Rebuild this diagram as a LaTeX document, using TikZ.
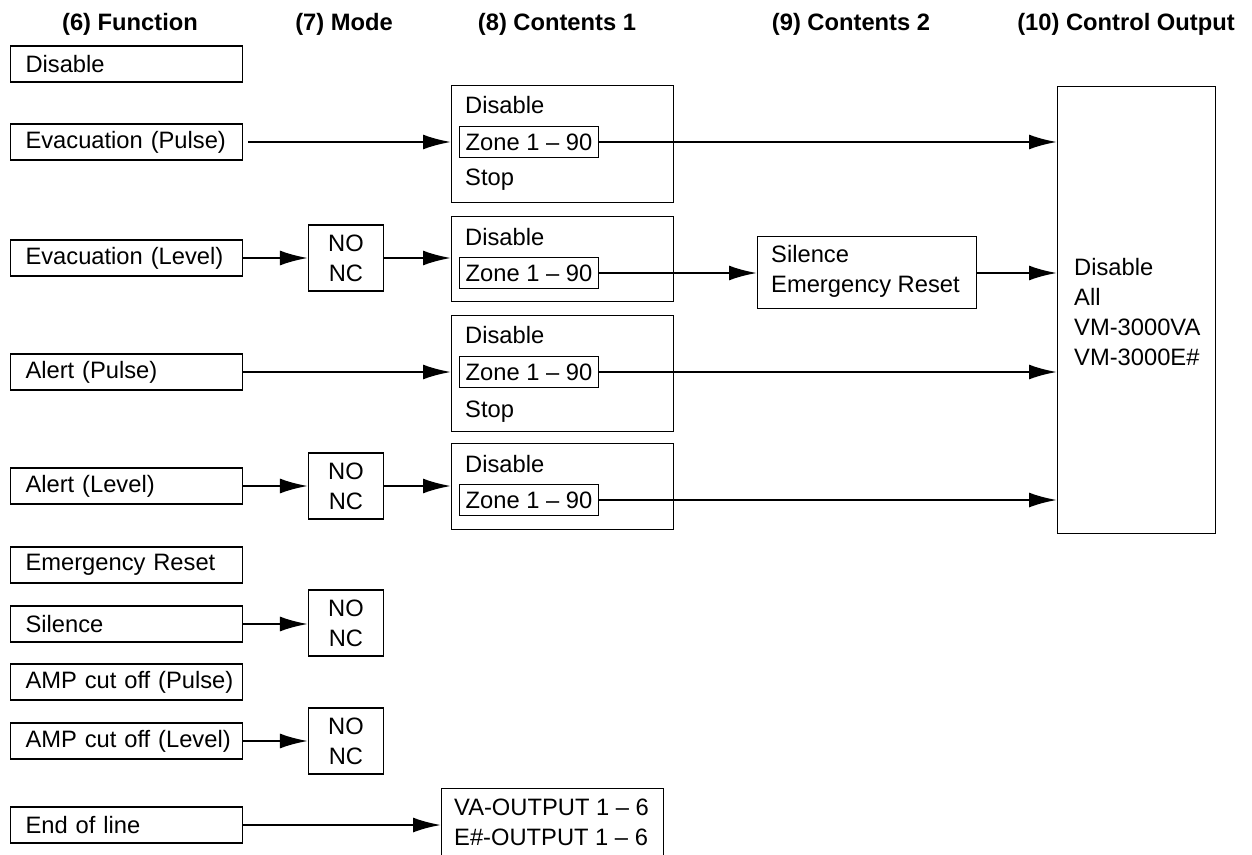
\documentclass[tikz,border=0pt]{standalone}
\usepackage{fontspec}
\setmainfont{Liberation Sans}
\usetikzlibrary{arrows.meta}

\begin{document}
\begin{tikzpicture}[x=0.02cm, y=-0.02cm,
        >={Latex[length=5.6mm,width=3mm]},
        font=\fontsize{13.5}{17}\selectfont,
        box/.style={draw, line width=0.6pt, rectangle, inner sep=0pt},
        funcbox/.style={box, anchor=west, minimum height=0.72cm, text width=4.64cm, align=left,
            execute at begin node={\hspace*{0.3cm}}},
        modebox/.style={box, minimum width=1.5cm, minimum height=1.32cm, align=center},
        zonebox/.style={box, anchor=west, minimum width=2.78cm, minimum height=0.62cm},
        flow/.style={->, line width=1.4pt},
        head/.style={font=\fontsize{13.5}{17}\selectfont\bfseries}]
        \clip (0,0) rectangle (1252,855);

        % Column headings
        \node[head] (h6) at (130, 24) {(6) Function};
        \node[head] (h7) at (344, 24) {(7) Mode};
        \node[head] (h8) at (557, 24) {(8) Contents 1};
        \node[head] (h9) at (851, 24) {(9) Contents 2};
        \node[head] (h10) at (1126, 24) {(10) Control Output};

        % Function column
        \node[funcbox] (fdis) at (10, 64) {Disable};
        \node[funcbox] (fevp) at (10, 142) {Evacuation (Pulse)};
        \node[funcbox] (fevl) at (10, 258) {Evacuation (Level)};
        \node[funcbox] (falp) at (10, 372) {Alert (Pulse)};
        \node[funcbox] (fall) at (10, 486) {Alert (Level)};
        \node[funcbox] (femr) at (10, 565) {Emergency Reset};
        \node[funcbox] (fsil) at (10, 624) {Silence};
        \node[funcbox] (fampp) at (10, 682) {AMP cut off (Pulse)};
        \node[funcbox] (fampl) at (10, 741) {AMP cut off (Level)};
        \node[funcbox] (feol) at (10, 825) {End of line};

        % Mode column
        \node[modebox] (mevl) at (346, 258) {NO\\NC};
        \node[modebox] (mall) at (346, 486) {NO\\NC};
        \node[modebox] (msil) at (346, 623) {NO\\NC};
        \node[modebox] (mampl) at (346, 741) {NO\\NC};

        % Contents 1 column
        \node[box, anchor=north west, minimum width=4.44cm, minimum height=2.34cm] (cevp) at (451, 85) {};
        \node[anchor=west] (cevpd) at (459, 105) {Disable};
        \node[zonebox] (zevp) at (459, 142) {Zone 1 -- 90};
        \node[anchor=west] (cevps) at (459, 180) {Stop};

        \node[box, anchor=north west, minimum width=4.44cm, minimum height=1.7cm] (cevl) at (451, 216) {};
        \node[anchor=west] (cevld) at (459, 237) {Disable};
        \node[zonebox] (zevl) at (459, 273) {Zone 1 -- 90};

        \node[box, anchor=north west, minimum width=4.44cm, minimum height=2.32cm] (calp) at (451, 315) {};
        \node[anchor=west] (calpd) at (459, 335) {Disable};
        \node[zonebox] (zalp) at (459, 372) {Zone 1 -- 90};
        \node[anchor=west] (calps) at (459, 412) {Stop};

        \node[box, anchor=north west, minimum width=4.44cm, minimum height=1.72cm] (call) at (451, 443) {};
        \node[anchor=west] (calld) at (459, 464) {Disable};
        \node[zonebox] (zall) at (459, 500) {Zone 1 -- 90};

        \node[box, anchor=north west, minimum width=4.44cm, minimum height=1.8cm] (ceol) at (441, 788) {};
        \node[anchor=west, align=left] (ceolt) at (448, 822) {VA-OUTPUT 1 -- 6\\E\#-OUTPUT 1 -- 6};

        % Contents 2 column
        \node[box, anchor=north west, minimum width=4.38cm, minimum height=1.44cm] (csil) at (757, 236) {};
        \node[anchor=west, align=left] (csilt) at (765, 271) {Silence\\Emergency Reset};

        % Control output column
        \node[box, anchor=north west, minimum width=3.16cm, minimum height=8.94cm] (ctl) at (1057, 86) {};
        \node[anchor=west, align=left] (ctlt) at (1068, 312) {Disable\\All\\VM-3000VA\\VM-3000E\#};

        % Connectors
        \draw[flow, shorten <=0.1cm] (fevp.east) -- (cevp.west |- fevp.east);
        \draw[flow] (zevp.east) -- (ctl.west |- zevp.east);

        \draw[flow] (fevl.east) -- (mevl.west);
        \draw[flow] (mevl.east) -- (cevl.west |- mevl.east);
        \draw[flow] (zevl.east) -- (csil.west |- zevl.east);
        \draw[flow] (csil.east |- zevl.east) -- (ctl.west |- zevl.east);

        \draw[flow] (falp.east) -- (calp.west |- falp.east);
        \draw[flow] (zalp.east) -- (ctl.west |- zalp.east);

        \draw[flow] (fall.east) -- (mall.west);
        \draw[flow] (mall.east) -- (call.west |- mall.east);
        \draw[flow] (zall.east) -- (ctl.west |- zall.east);

        \draw[flow] (fsil.east) -- (msil.west |- fsil.east);
        \draw[flow] (fampl.east) -- (mampl.west);
        \draw[flow] (feol.east) -- (ceol.west |- feol.east);
    \end{tikzpicture}
\end{document}
